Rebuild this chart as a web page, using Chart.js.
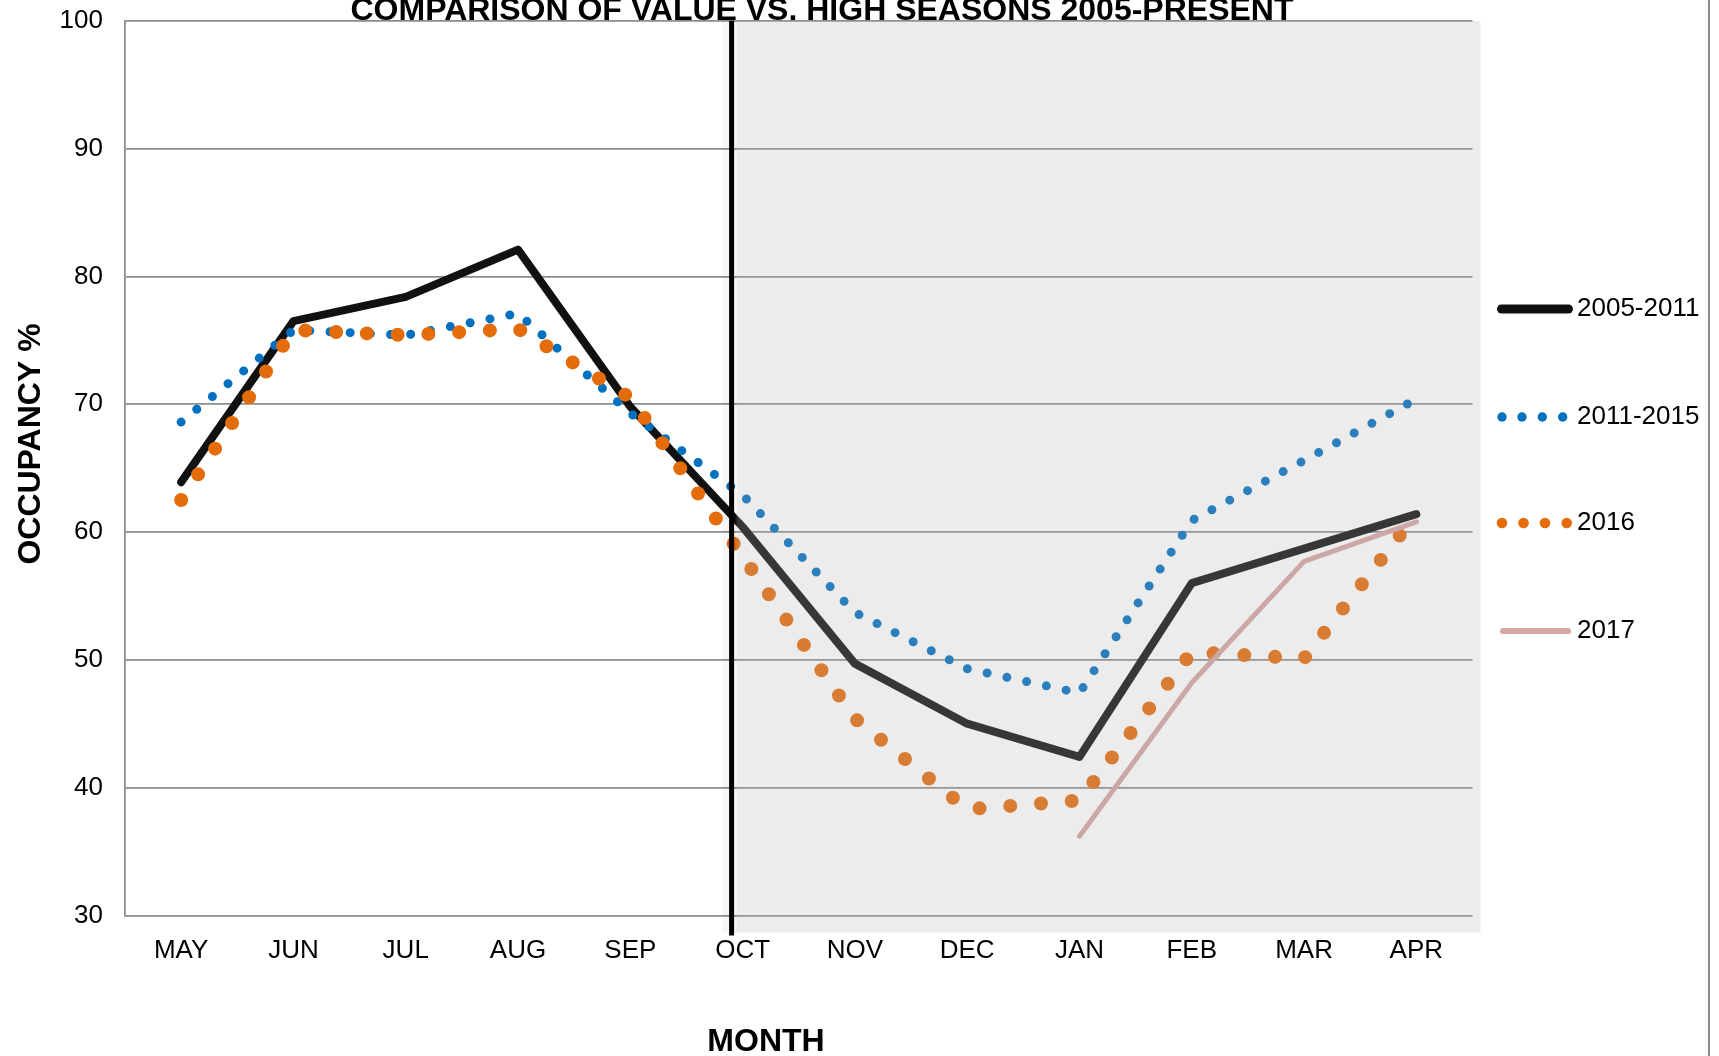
<!DOCTYPE html>
<html>
<head>
<meta charset="utf-8">
<style>
  html, body { margin: 0; padding: 0; background: #ffffff; }
  #wrap { width: 1719px; height: 1056px; }
</style>
<script src="https://cdn.jsdelivr.net/npm/chart.js@4.4.1/dist/chart.umd.min.js"></script>
</head>
<body>
<div id="wrap"><canvas id="c" width="1719" height="1056"></canvas></div>
<script>
const categories = ['MAY','JUN','JUL','AUG','SEP','OCT','NOV','DEC','JAN','FEB','MAR','APR'];
const yTicks = [30, 40, 50, 60, 70, 80, 90, 100];
const seriesNames = ['2005-2011', '2011-2015', '2016', '2017'];
const s2005_2011 = [63.9, 76.5, 78.4, 82.1, 69.8, 60.4, 49.7, 45.0, 42.4, 56.0, 58.7, 61.4];
const s2011_2015 = [68.6, 75.8, 75.4, 77.1, 69.3, 62.9, 53.7, 49.3, 47.4, 60.9, 65.6, 70.4];
const s2016      = [62.5, 75.8, 75.4, 75.9, 70.5, 58.1, 45.4, 38.3, 39.0, 50.6, 50.1, 61.4];
const s2017      = [null, null, null, null, null, null, null, null, 36.2, 48.2, 57.7, 60.8];
const chartTitle = 'COMPARISON OF VALUE VS. HIGH SEASONS 2005-PRESENT';
const yTitle = 'OCCUPANCY %';
const xTitle = 'MONTH';

const FONT = "'Liberation Sans', Arial, sans-serif";
const GRID = '#8c8c8c';
const colors = ['#111111', '#0070c0', '#e46c0a', '#d4a6a4'];

const decorPlugin = {
  id: 'decor',
  afterDatasetsDraw(chart) {
    const ctx = chart.ctx, a = chart.chartArea, x = chart.scales.x;
    const octX = x.getPixelForValue(5);
    ctx.save();
    ctx.fillStyle = 'rgba(0,0,0,0.035)';
    ctx.fillRect(octX - 20, a.top, 14, a.bottom + 17 - a.top);
    ctx.fillStyle = 'rgba(177,177,177,0.243)';
    ctx.fillRect(octX - 6, a.top, a.right + 8 - (octX - 6), a.bottom + 17 - a.top);
    ctx.strokeStyle = '#000000';
    ctx.lineWidth = 5;
    ctx.beginPath();
    ctx.moveTo(octX - 11, a.top);
    ctx.lineTo(octX - 11, a.bottom + 20);
    ctx.stroke();
    ctx.restore();
  },
  afterDraw(chart) {
    const ctx = chart.ctx;
    ctx.save();
    ctx.strokeStyle = GRID;
    ctx.lineWidth = 2;
    ctx.beginPath();
    ctx.moveTo(1709, 0);
    ctx.lineTo(1709, 1056);
    ctx.stroke();
    ctx.fillStyle = '#000';
    ctx.font = 'bold 32px ' + FONT;
    ctx.textAlign = 'center';
    ctx.textBaseline = 'alphabetic';
    ctx.fillText(chartTitle, 822, 20);
    ctx.fillText(xTitle, 766, 1051);
    ctx.save();
    ctx.translate(40, 444);
    ctx.rotate(-Math.PI / 2);
    ctx.fillText(yTitle, 0, 0);
    ctx.restore();
    const ly = [309, 417, 523, 631];
    ctx.lineCap = 'round';
    ctx.strokeStyle = colors[0];
    ctx.lineWidth = 9;
    ctx.beginPath(); ctx.moveTo(1501.5, ly[0]); ctx.lineTo(1568.5, ly[0]); ctx.stroke();
    ctx.fillStyle = colors[1];
    [1502, 1522, 1542.3, 1562.7].forEach(px => { ctx.beginPath(); ctx.arc(px, ly[1], 4.7, 0, Math.PI * 2); ctx.fill(); });
    ctx.fillStyle = colors[2];
    [1502, 1523.5, 1545, 1566.7].forEach(px => { ctx.beginPath(); ctx.arc(px, ly[2], 5.3, 0, Math.PI * 2); ctx.fill(); });
    ctx.strokeStyle = colors[3];
    ctx.lineWidth = 6;
    ctx.beginPath(); ctx.moveTo(1503, ly[3]); ctx.lineTo(1568, ly[3]); ctx.stroke();
    ctx.fillStyle = '#000';
    ctx.font = '26px ' + FONT;
    ctx.textAlign = 'left';
    ctx.textBaseline = 'middle';
    seriesNames.forEach((n, i) => ctx.fillText(n, 1577, ly[i]));
    ctx.restore();
  }
};

new Chart(document.getElementById('c'), {
  type: 'line',
  data: {
    labels: categories,
    datasets: [
      { label: seriesNames[0], data: s2005_2011, borderColor: colors[0], borderWidth: 8,
        borderCapStyle: 'round', borderJoinStyle: 'round', pointRadius: 0, order: 4, tension: 0 },
      { label: seriesNames[1], data: s2011_2015, borderColor: colors[1], borderWidth: 9,
        borderDash: [0, 20.2], borderCapStyle: 'round', borderJoinStyle: 'round', pointRadius: 0, order: 3, tension: 0 },
      { label: seriesNames[2], data: s2016, borderColor: colors[2], borderWidth: 14,
        borderDash: [0, 30.8], borderCapStyle: 'round', borderJoinStyle: 'round', pointRadius: 0, order: 2, tension: 0 },
      { label: seriesNames[3], data: s2017, borderColor: colors[3], borderWidth: 5,
        borderCapStyle: 'round', borderJoinStyle: 'round', pointRadius: 0, order: 1, tension: 0 }
    ]
  },
  options: {
    responsive: false,
    animation: false,
    devicePixelRatio: 1,
    layout: { padding: { top: 20.8, right: 246.5, left: 0, bottom: 0 } },
    plugins: { legend: { display: false }, title: { display: false }, tooltip: { enabled: false } },
    scales: {
      x: {
        type: 'category',
        offset: true,
        grid: { display: false, drawTicks: false },
        border: { display: false },
        ticks: { color: '#000', font: { family: FONT, size: 26 }, padding: 19.5, maxRotation: 0, autoSkip: false },
        afterFit(scale) { scale.height = 140.6; scale.paddingLeft = 0; scale.paddingRight = 0; }
      },
      y: {
        min: 30, max: 100,
        afterBuildTicks(scale) { scale.ticks = yTicks.map(v => ({ value: v })); },
        grid: { color: GRID, lineWidth: 1.8, drawTicks: false },
        border: { display: true, color: GRID, width: 1.8 },
        ticks: { color: '#000', font: { family: FONT, size: 26 }, padding: 22 },
        afterFit(scale) { scale.width = 125; scale.paddingTop = 0; scale.paddingBottom = 0; }
      }
    }
  },
  plugins: [decorPlugin]
});
</script>
</body>
</html>
